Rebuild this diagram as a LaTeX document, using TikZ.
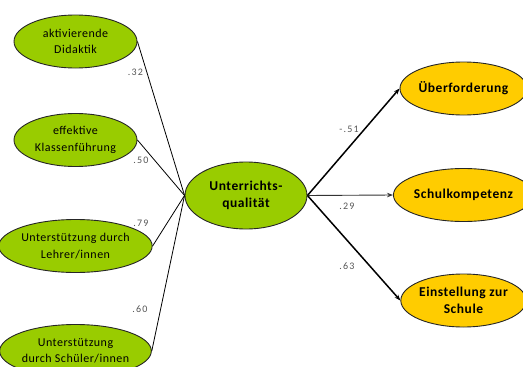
\documentclass[tikz,border=0pt]{standalone}
\usepackage{fontspec}
\setmainfont{Carlito}
\newfontfamily\labfont[LetterSpace=12]{Carlito}
\newfontfamily\txtfont[LetterSpace=4]{Carlito}
\usetikzlibrary{shapes.geometric,arrows.meta}
\definecolor{lgreen}{HTML}{99CC00}
\definecolor{lyellow}{HTML}{FFCC00}
\definecolor{labgray}{HTML}{555555}
\tikzset{
  lell/.style={ellipse, draw=black!85, line width=0.9pt, fill=lgreen, minimum width=123pt, minimum height=53pt, inner sep=0pt, align=center, font=\txtfont\fontsize{12}{16.5}\selectfont},
  cell/.style={ellipse, draw=black!85, line width=0.9pt, fill=lgreen, minimum width=122pt, minimum height=67pt, inner sep=0pt, align=center, font=\txtfont\bfseries\fontsize{13.5}{16.7}\selectfont},
  rell/.style={ellipse, draw=black!85, line width=0.9pt, fill=lyellow, minimum width=117pt, minimum height=53pt, inner sep=0pt, align=center, font=\txtfont\bfseries\fontsize{13.5}{16.7}\selectfont},
  lline/.style={line width=0.8pt, black},
  rline/.style={line width=1.5pt, black, -{Stealth[length=6pt,width=4.5pt]}},
  rthin/.style={line width=0.9pt, black!80, -{Stealth[length=6pt,width=4.5pt]}},
  wlab/.style={font=\labfont\fontsize{10}{12}\selectfont, text=labgray, inner sep=0pt}
}
\begin{document}
\begin{tikzpicture}[x=1pt,y=-1pt]
\useasboundingbox (0,0) rectangle (523,367);
\clip (0,0) rectangle (523,367);
\node[lell] (a) at (75.5,41.5) {aktivierende\\Didaktik};
\node[lell] (b) at (75.5,140) {effektive\\Klassenführung};
\node[lell] (c) at (75.5,246) {Unterstützung durch\\Lehrer/innen};
\node[lell] (d) at (75.5,351) {Unterstützung\\durch Schüler/innen};
\node[cell] (u) at (246,195.5) {Unterrichts-\\qualität};
\node[rell] (r1) at (463.5,88.5) {Überforderung};
\node[rell] (r2) at (463.5,195) {Schulkompetenz};
\node[rell] (r3) at (463.5,300.5) {Einstellung zur\\Schule};
\draw[lline] (a.east) -- (u.west);
\draw[lline] (b.east) -- (u.west);
\draw[lline] (c.east) -- (u.west);
\draw[lline] (d.east) -- (u.west);
\draw[rline] (u.east) -- (r1.west);
\draw[rthin] (u.east) -- (r2.west);
\draw[rline] (u.east) -- (r3.west);
\node[wlab] (l1) at (135.5,72) {.32};
\node[wlab] (l2) at (141,160) {.50};
\node[wlab] (l3) at (141,223) {.79};
\node[wlab] (l4) at (140,309) {.60};
\node[wlab] (l5) at (349,129) {-.51};
\node[wlab] (l6) at (347,206) {.29};
\node[wlab] (l7) at (347,266) {.63};
\end{tikzpicture}
\end{document}
